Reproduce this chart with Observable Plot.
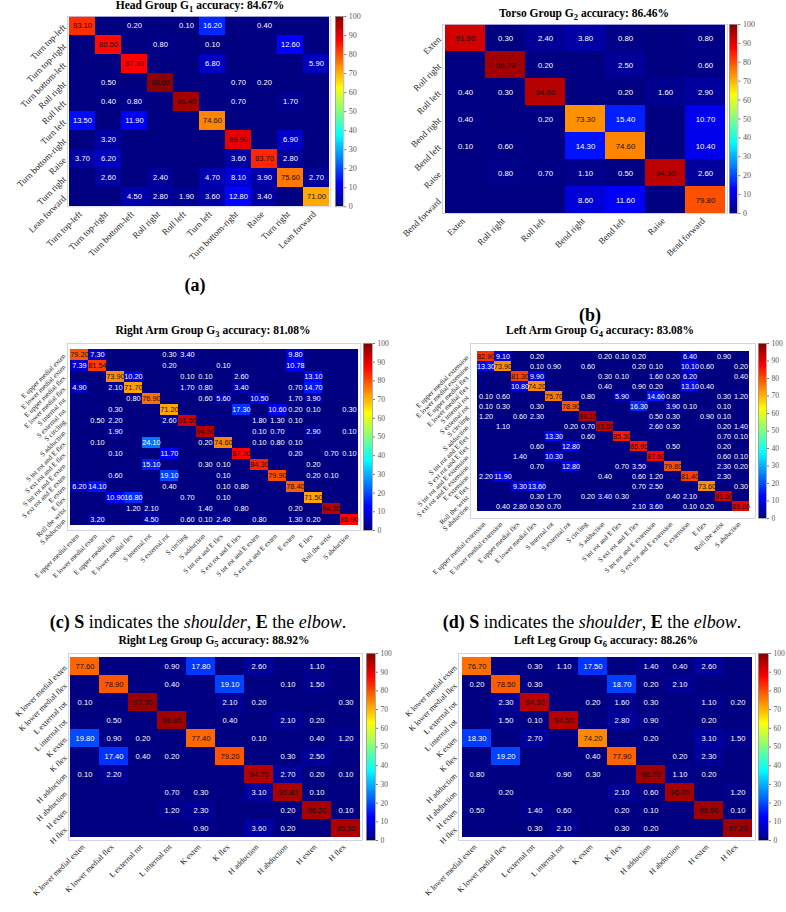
<!DOCTYPE html>
<html><head><meta charset="utf-8">
<script src="https://cdn.jsdelivr.net/npm/d3@7"></script>
<script src="https://cdn.jsdelivr.net/npm/@observablehq/plot@0.6"></script>
<style>
body{margin:0;background:#fff;}
#root{position:relative;width:786px;height:912px;overflow:hidden;font-family:"Liberation Serif","Times New Roman",serif;color:#000;}
.title{position:absolute;font-weight:bold;font-size:11.5px;white-space:nowrap;transform:translate(-50%,-50%);line-height:1;}
.title sub{font-size:8.5px;vertical-align:-3px;}
.cap{position:absolute;font-size:18px;white-space:nowrap;transform:translate(-50%,-50%);line-height:1;}
</style></head><body><div id="root"></div>
<script>
// ---------------- data ----------------
const headLabels = ["Turn top-left","Turn top-right","Turn bottom-left","Roll right","Roll left","Turn left","Turn bottom-right","Raise","Turn right","Lean forward"];
const headMatrix = [
 [83.10,0,0.20,0,0.10,16.20,0,0.40,0,0],
 [0,86.50,0,0.80,0,0.10,0,0,12.60,0],
 [0,0,87.30,0,0,6.80,0,0,0,5.90],
 [0,0.50,0,98.60,0,0,0.70,0.20,0,0],
 [0,0.40,0.80,0,96.40,0,0.70,0,1.70,0],
 [13.50,0,11.90,0,0,74.60,0,0,0,0],
 [0,3.20,0,0,0,0,89.90,0,6.90,0],
 [3.70,6.20,0,0,0,0,3.60,83.70,2.80,0],
 [0,2.60,0,2.40,0,4.70,8.10,3.90,75.60,2.70],
 [0,0,4.50,2.80,1.90,3.60,12.80,3.40,0,71.00]
];
const torsoLabels = ["Exten","Roll right","Roll left","Bend right","Bend left","Raise","Bend forward"];
const torsoMatrix = [
 [91.90,0.30,2.40,3.80,0.80,0,0.80],
 [0,96.70,0.20,0,2.50,0,0.60],
 [0.40,0.30,94.60,0,0.20,1.60,2.90],
 [0.40,0,0.20,73.30,15.40,0,10.70],
 [0.10,0.60,0,14.30,74.60,0,10.40],
 [0,0.80,0.70,1.10,0.50,94.30,2.60],
 [0,0,0,8.60,11.60,0,79.80]
];
const rightArmLabels = ["E upper medial exten","E lower medial exten","E upper medial flex","E lower medial flex","S internal rot","S external rot","S circling","S adduction","S int rot and E flex","S ext rot and E flex","S int rot and E exten","S ext rot and E exten","E exten","E flex","Roll the wrist","S abduction"];
const rightArmMatrix = [
 [79.20,7.30,0,0,0,0.30,3.40,0,0,0,0,0,9.80,0,0,0],
 [7.39,81.54,0,0,0,0.20,0,0,0.10,0,0,0,10.78,0,0,0],
 [0,0,73.90,10.20,0,0,0.10,0.10,0,2.60,0,0,0,13.10,0,0],
 [4.90,0,2.10,71.70,0,0,1.70,0.80,0,3.40,0,0,0.70,14.70,0,0],
 [0,0,0,0.80,76.90,0,0,0.60,5.60,0,10.50,0,1.70,3.90,0,0],
 [0,0,0.30,0,0,71.20,0,0,0,17.30,0,10.60,0.20,0.10,0,0.30],
 [0,0.50,2.20,0,0,2.60,91.50,0,0,0,1.80,1.30,0.10,0,0,0],
 [0,0,1.90,0,0,0,0,94.30,0,0,0.10,0.70,0,2.90,0,0.10],
 [0,0.10,0,0,24.10,0,0,0.20,74.60,0,0.10,0.80,0.10,0,0,0],
 [0,0,0.10,0,0,11.70,0,0,0,87.20,0,0,0.20,0,0.70,0.10],
 [0,0,0,0,15.10,0,0,0.30,0.10,0,84.30,0,0,0.20,0,0],
 [0,0,0.60,0,0,19.10,0,0,0.10,0,0,79.90,0,0.20,0.10,0],
 [6.20,14.10,0,0,0,0.40,0,0,0.10,0.80,0,0,78.40,0,0,0],
 [0,0,10.90,16.80,0,0,0.70,0,0.10,0,0,0,0,71.50,0,0],
 [0,0,0,1.20,2.10,0,0,1.40,0,0.80,0,0,0.20,0,94.30,0],
 [0,3.20,0,0,4.50,0,0.60,0.10,2.40,0,0.80,0,1.30,0.20,0,86.90]
];
const leftArmLabels = ["E upper medial extension","E lower medial extension","E upper medial flex","E lower medial flex","S internal rot","S external rot","S circling","S adduction","S int rot and E flex","S ext rot and E flex","S int rot and E extension","S ext rot and E extension","E extension","E flex","Roll the wrist","S abduction"];
const leftArmMatrix = [
 [82.90,9.10,0,0.20,0,0,0,0.20,0.10,0.20,0,0,6.40,0,0.90,0],
 [13.30,73.90,0,0.10,0.90,0,0.60,0,0,0.20,0.10,0,10.10,0.60,0,0.20],
 [0,0,81.30,9.90,0,0,0,0.30,0.10,0,1.60,0.20,6.20,0,0,0.40],
 [0,0,10.80,74.20,0,0,0,0.40,0,0.90,0.20,0,13.10,0.40,0,0],
 [0.10,0.60,0,0,75.70,0,0.80,0,5.90,0,14.60,0.80,0,0,0.30,1.20],
 [0.10,0.30,0,0.30,0,78.90,0,0,0,16.30,0,3.90,0.10,0,0.10,0],
 [1.20,0,0.60,2.30,0,0,94.10,0,0,0,0.50,0.30,0,0.90,0.10,0],
 [0,1.10,0,0,0,0.20,0.70,93.50,0,0,2.60,0.30,0,0,0.20,1.40],
 [0,0,0,0,13.30,0,0.60,0,85.30,0,0,0,0,0,0.70,0.10],
 [0,0,0,0.60,0,12.80,0,0,0,85.90,0,0.50,0,0,0.20,0],
 [0,0,1.40,0,10.30,0,0,0,0,0,87.60,0,0,0,0.60,0.10],
 [0,0,0,0.70,0,12.80,0,0,0.70,3.50,0,79.80,0,0,2.30,0.20],
 [2.20,11.90,0,0,0,0,0,0.40,0,0.60,1.20,0,81.40,0,2.30,0],
 [0,0,9.30,13.60,0,0,0,0,0,0.70,2.50,0,0,73.60,0,0.30],
 [0,0,0,0.30,1.70,0,0.20,3.40,0.30,0,0,0.40,2.10,0,91.60,0],
 [0,0.40,2.80,0.50,0.70,0,0,0,0,2.10,3.60,0,0.10,0.20,0,89.60]
];
const legLabels = ["K lower medial exten","K lower medial flex","L external rot","L internal rot","K exten","K flex","H adduction","H abduction","H exten","H flex"];
const rightLegMatrix = [
 [77.60,0,0,0.90,17.80,0,2.60,0,1.10,0],
 [0,78.90,0,0.40,0,19.10,0,0.10,1.50,0],
 [0.10,0,97.30,0,0,2.10,0.20,0,0,0.30],
 [0,0.50,0,96.80,0,0.40,0,2.10,0.20,0],
 [19.80,0.90,0.20,0,77.40,0,0.10,0,0.40,1.20],
 [0,17.40,0.40,0.20,0,79.20,0,0.30,2.50,0],
 [0.10,2.20,0,0,0,0,94.70,2.70,0.20,0.10],
 [0,0,0,0.70,0.30,0,3.10,95.80,0.10,0],
 [0,0,0,1.20,2.30,0,0,0.20,96.20,0.10],
 [0,0,0,0,0.90,0,3.60,0.20,0,95.30]
];
const leftLegMatrix = [
 [76.70,0,0.30,1.10,17.50,0,1.40,0.40,2.60,0],
 [0.20,78.50,0.30,0,0,18.70,0.20,2.10,0,0],
 [0,2.30,94.30,0,0.20,1.60,0.30,0,1.10,0.20],
 [0,1.50,0.10,94.50,0,2.80,0.90,0,0.20,0],
 [18.30,0,2.70,0,74.20,0,0.20,0,3.10,1.50],
 [0,19.20,0,0,0.40,77.90,0,0.20,2.30,0],
 [0.80,0,0,0.90,0.30,0,96.70,1.10,0.20,0],
 [0,0.20,0,0,0,2.10,0.60,96.00,0,1.20],
 [0.50,0,1.40,0.60,0,0.20,0.10,0,96.90,0.10],
 [0,0,0.30,2.10,0,0.30,0.20,0,0,97.20]
];
const colorTicks = [0,10,20,30,40,50,60,70,80,90,100];

// ---------------- drawing ----------------
const root = document.getElementById("root");
const SERIF = "Liberation Serif, Times New Roman, serif";
const SANS = "Liberation Sans, Arial, sans-serif";
function jet(t){
  const c = v => Math.round(255*Math.max(0, Math.min(1, v)));
  return `rgb(${c(1.5-Math.abs(4*t-3))},${c(1.5-Math.abs(4*t-2))},${c(1.5-Math.abs(4*t-1))})`;
}
const colorOpt = {type:"linear", domain:[0,100], interpolate: jet};

function boldify(svg){
  svg.querySelectorAll('g[aria-label="ticklabels"] text').forEach(t=>{
    const s = t.textContent; t.textContent = "";
    s.split(/(\b[SEKLH]\b)/).forEach(part=>{
      if(!part) return;
      const ts = document.createElementNS("http://www.w3.org/2000/svg","tspan");
      if(/^[SEKLH]$/.test(part)) ts.setAttribute("font-weight","bold");
      ts.textContent = part; t.appendChild(ts);
    });
  });
}

function place(el, left, top){
  el.style.position = "absolute"; el.style.left = left+"px"; el.style.top = top+"px";
  root.appendChild(el);
}

function panel(p){
  const cells = [];
  p.matrix.forEach((row,i)=>row.forEach((v,j)=>cells.push({r:p.labels[i], c:p.labels[j], v})));
  const M = 90;
  const w = p.x1-p.x0, h = p.y1-p.y0;
  const chart = Plot.plot({
    width: w+2*M, height: h+2*M,
    marginLeft: M, marginRight: M, marginTop: M, marginBottom: M,
    style: {background:"transparent", overflow:"visible"},
    x: {domain: p.labels, padding: 0, axis: null},
    y: {domain: p.labels, padding: 0, axis: null},
    color: colorOpt,
    marks: [
      Plot.cell(cells, {x:"c", y:"r", fill:"v", inset:0, shapeRendering:"crispEdges"}),
      Plot.text(cells.filter(d=>d.v>0 && d.v<50), {x:"c", y:"r", text:d=>d.v.toFixed(2), fill:"#ffffff", fontSize:p.vf, fontFamily:SANS}),
      Plot.text(cells.filter(d=>d.v>=50), {x:"c", y:"r", text:d=>d.v.toFixed(2), fill:"#111", fontSize:p.vf, fontFamily:SANS}),
      Plot.text(p.labels, {x:d=>d, frameAnchor:"bottom", dy:p.xdy, rotate:-45, textAnchor:"end", fontSize:p.tf, fontFamily:SERIF, fill:"#222", ariaLabel:"ticklabels"}),
      Plot.text(p.labels, {y:d=>d, frameAnchor:"left", dx:-p.ydx, rotate:-45, textAnchor:"end", fontSize:p.tf, fontFamily:SERIF, fill:"#222", ariaLabel:"ticklabels"}),
      Plot.frame({stroke:"#c8c8e8", strokeWidth:0.8})
    ]
  });
  if(p.bold) boldify(chart);
  place(chart, p.x0-M, p.y0-M);

  // colorbar
  const steps = d3.range(0,100,1);
  const cb = Plot.plot({
    width: (p.c1-p.c0)+30, height: h,
    marginLeft:0, marginRight:30, marginTop:0, marginBottom:0,
    style:{background:"transparent", overflow:"visible"},
    x:{domain:[0,1], axis:null},
    y:{domain:[0,100], axis:null},
    color: colorOpt,
    marks:[
      Plot.rect(steps, {x1:0, x2:1, y1:d=>d, y2:d=>d+1, fill:d=>d+0.5, shapeRendering:"crispEdges"}),
      Plot.frame({stroke:"#9a9a9a", strokeWidth:0.8}),
      Plot.axisY(colorTicks, {anchor:"right", tickSize:2, tickPadding:3, fontSize:p.cbf, fontFamily:SERIF, fill:"#555", stroke:"#777", label:null})
    ]
  });
  place(cb, p.c0, p.y0);

  const t = document.createElement("div");
  t.className = "title";
  t.innerHTML = p.title;
  t.style.left = p.tx+"px"; t.style.top = p.ty+"px";
  root.appendChild(t);
}

panel({labels:headLabels, matrix:headMatrix, x0:66.7, x1:330, y0:15.7, y1:206, c0:335, c1:343.3,
  vf:7.6, tf:9, cbf:8, xdy:8, ydx:3, tx:200, ty:7, title:"Head Group G<sub>1</sub> accuracy: 84.67%"});
panel({labels:torsoLabels, matrix:torsoMatrix, x0:441.7, x1:726.7, y0:24, y1:213, c0:729.3, c1:737.7,
  vf:7.8, tf:9, cbf:8, xdy:8, ydx:3, tx:584, ty:15, title:"Torso Group G<sub>2</sub> accuracy: 86.46%"});
panel({labels:rightArmLabels, matrix:rightArmMatrix, x0:66.7, x1:360, y0:343, y1:530, c0:363, c1:372,
  vf:7.4, tf:7, cbf:7.5, xdy:6, ydx:3, tx:213, ty:332, bold:true, title:"Right Arm Group G<sub>3</sub> accuracy: 81.08%"});
panel({labels:leftArmLabels, matrix:leftArmMatrix, x0:470, x1:755, y0:343, y1:518, c0:758, c1:766,
  vf:7.2, tf:7, cbf:7.5, xdy:6, ydx:3, tx:600, ty:332, bold:true, title:"Left Arm Group G<sub>4</sub> accuracy: 83.08%"});
panel({labels:legLabels, matrix:rightLegMatrix, x0:68, x1:362, y0:653, y1:840, c0:366, c1:375,
  vf:7.6, tf:8, cbf:7.5, xdy:7, ydx:3, tx:214, ty:642, bold:true, title:"Right Leg Group G<sub>5</sub> accuracy: 88.92%"});
panel({labels:legLabels, matrix:leftLegMatrix, x0:458, x1:755, y0:653, y1:840, c0:758, c1:768,
  vf:7.6, tf:8, cbf:7.5, xdy:7, ydx:3, tx:606, ty:642, bold:true, title:"Left Leg Group G<sub>6</sub> accuracy: 88.26%"});

function caption(html, x, y){
  const c = document.createElement("div");
  c.className = "cap"; c.innerHTML = html;
  c.style.left = x+"px"; c.style.top = y+"px";
  root.appendChild(c);
}
caption("<b>(a)</b>", 195, 285);
caption("<b>(b)</b>", 590, 315);
caption("<b>(c)</b> <b>S</b> indicates the <i>shoulder</i>, <b>E</b> the <i>elbow</i>.", 198, 622);
caption("<b>(d)</b> <b>S</b> indicates the <i>shoulder</i>, <b>E</b> the <i>elbow</i>.", 592, 622);
</script>
</body></html>
